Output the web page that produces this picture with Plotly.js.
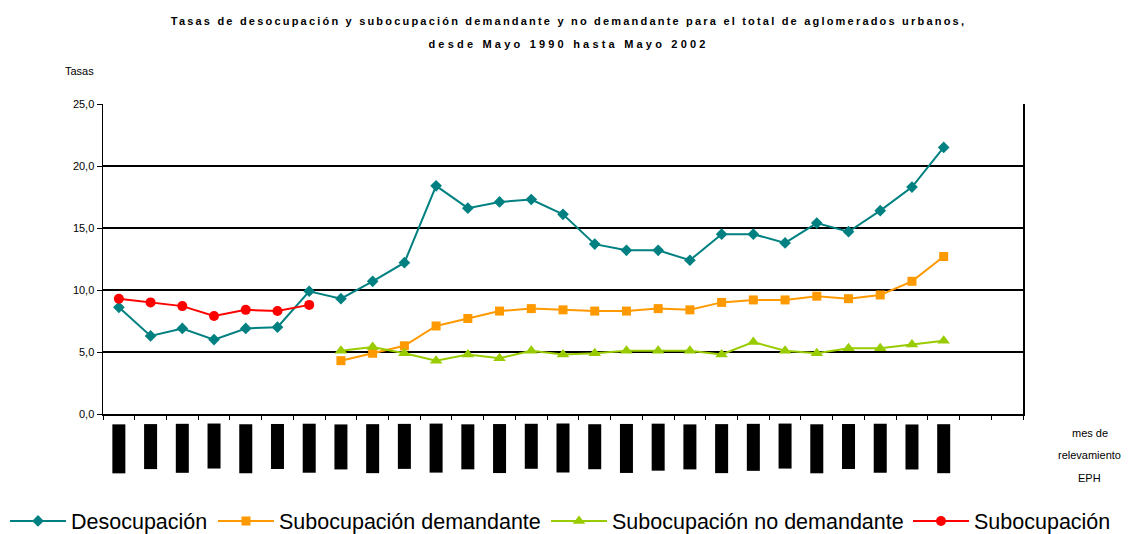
<!DOCTYPE html>
<html>
<head>
<meta charset="utf-8">
<script src="https://cdn.plot.ly/plotly-3.0.1.min.js"></script>
<style>
  html, body { margin: 0; padding: 0; background: #fff; }
  #chart { width: 1137px; height: 534px; }
  .gtitle { letter-spacing: 2.2px; }
  .annotation[data-index="0"] .annotation-text { letter-spacing: 3.2px; }
</style>
</head>
<body>
<div id="chart"></div>
<script>
// Categories (mes de relevamiento EPH)
const meses = ["may-90","oct-90","may-91","oct-91","may-92","oct-92","may-93","oct-93",
  "may-94","oct-94","may-95","oct-95","may-96","oct-96","may-97","oct-97",
  "may-98","ago-98","oct-98","may-99","ago-99","oct-99","may-00","oct-00",
  "may-01","oct-01","may-02"];

// Series values (tasas, %)
const desocupacion = [8.6, 6.3, 6.9, 6.0, 6.9, 7.0, 9.9, 9.3, 10.7, 12.2, 18.4, 16.6, 17.1, 17.3,
  16.1, 13.7, 13.2, 13.2, 12.4, 14.5, 14.5, 13.8, 15.4, 14.7, 16.4, 18.3, 21.5];
const subDemandante = [null, null, null, null, null, null, null,
  4.3, 4.9, 5.5, 7.1, 7.7, 8.3, 8.5, 8.4, 8.3, 8.3, 8.5, 8.4, 9.0, 9.2, 9.2, 9.5, 9.3, 9.6, 10.7, 12.7];
const subNoDemandante = [null, null, null, null, null, null, null,
  5.1, 5.4, 4.9, 4.3, 4.8, 4.5, 5.1, 4.8, 4.9, 5.1, 5.1, 5.1, 4.8, 5.8, 5.1, 4.9, 5.3, 5.3, 5.6, 5.9];
const subocupacion = [9.3, 9.0, 8.7, 7.9, 8.4, 8.3, 8.8];

const yTicks = [0, 5, 10, 15, 20, 25];
const nSlots = 29; // category slots on the axis (last two empty)

const xIdx = meses.map((m, i) => i);

function serie(name, y, color, symbol, size, legend) {
  return {
    type: 'scatter', mode: 'lines+markers', name: name, legend: legend,
    x: xIdx.slice(0, y.length), y: y,
    line: { color: color, width: 2 },
    marker: { color: color, symbol: symbol, size: size },
    connectgaps: false
  };
}

const data = [
  serie('Desocupación', desocupacion, '#008080', 'diamond', 9, 'legend'),
  serie('Subocupación demandante', subDemandante, '#FF9900', 'square', 9, 'legend2'),
  serie('Subocupación no demandante', subNoDemandante, '#99CC00', 'triangle-up', 11, 'legend3'),
  serie('Subocupación', subocupacion, '#FF0000', 'circle', 10, 'legend4')
];

const F = 'Liberation Sans, Arial';
const annotations = [
  { text: 'desde Mayo 1990 hasta Mayo 2002', xref: 'paper', yref: 'paper',
    x: (568-103)/920, y: (414-44)/310, xanchor: 'center', yanchor: 'middle', showarrow: false,
    font: { family: F, size: 11, color: '#000', weight: 'bold' } },
  { text: 'Tasas', xref: 'paper', yref: 'paper', x: -0.0435, y: (414-71)/310,
    xanchor: 'left', yanchor: 'middle', showarrow: false,
    font: { family: F, size: 11, color: '#000' } },
  { text: 'mes de', xref: 'paper', yref: 'paper', x: 1.0728, y: (414-433)/310,
    xanchor: 'center', yanchor: 'middle', showarrow: false,
    font: { family: F, size: 11, color: '#000' } },
  { text: 'relevamiento', xref: 'paper', yref: 'paper', x: 1.0728, y: (414-455)/310,
    xanchor: 'center', yanchor: 'middle', showarrow: false,
    font: { family: F, size: 11, color: '#000' } },
  { text: 'EPH', xref: 'paper', yref: 'paper', x: 1.0728, y: (414-478)/310,
    xanchor: 'center', yanchor: 'middle', showarrow: false,
    font: { family: F, size: 11, color: '#000' } }
];

// Category labels, drawn as the solid black rotated blocks seen in the reference
meses.forEach((m, i) => {
  const w = m.startsWith('may') ? 49 : (m.startsWith('ago') ? 47 : 45);
  annotations.push({
    text: m, x: i, y: 0, xref: 'x', yref: 'y', xanchor: 'center', yanchor: 'top',
    yshift: -10, textangle: -90, showarrow: false, width: w, height: 13,
    bgcolor: '#000', borderpad: 0, borderwidth: 0,
    font: { family: F, size: 8, color: '#000' }
  });
});

function leg(px) {
  return {
    orientation: 'h', xref: 'container', yref: 'container',
    x: px / 1137, xanchor: 'left', y: 1 - 521/534, yanchor: 'middle',
    font: { family: F, size: 21.5, color: '#000' },
    itemwidth: 56, bgcolor: 'rgba(0,0,0,0)', borderwidth: 0
  };
}

const layout = {
  width: 1137, height: 534,
  paper_bgcolor: '#fff', plot_bgcolor: '#fff',
  margin: { l: 103, r: 114, t: 104, b: 120 },
  title: {
    text: 'Tasas de desocupación y subocupación demandante y no demandante para el total de aglomerados urbanos,',
    x: 0.5, xref: 'container', y: 1 - 21/534, yanchor: 'middle',
    font: { family: F, size: 11, color: '#000', weight: 'bold' }
  },
  separators: ',.',
  showlegend: true,
  legend: leg(5),
  legend2: leg(213),
  legend3: leg(546),
  legend4: leg(908),
  xaxis: {
    range: [-0.5, nSlots - 0.5], tickmode: 'linear', tick0: -0.5, dtick: 1,
    ticks: 'outside', ticklen: 4, tickwidth: 1, tickcolor: '#000',
    showticklabels: false, showgrid: false, zeroline: false,
    showline: true, linecolor: '#000', linewidth: 1.5, fixedrange: true
  },
  yaxis: {
    range: [0, 25], tickvals: yTicks, tickformat: '.1f',
    ticks: 'outside', ticklen: 5, tickwidth: 1, tickcolor: '#000',
    tickfont: { family: F, size: 11, color: '#000' },
    showgrid: true, gridcolor: '#000', gridwidth: 1.5, zeroline: false,
    showline: true, linecolor: '#000', linewidth: 1.5, mirror: true, fixedrange: true
  },
  annotations: annotations
};

Plotly.newPlot('chart', data, layout, { staticPlot: true, displayModeBar: false });
</script>
</body>
</html>
